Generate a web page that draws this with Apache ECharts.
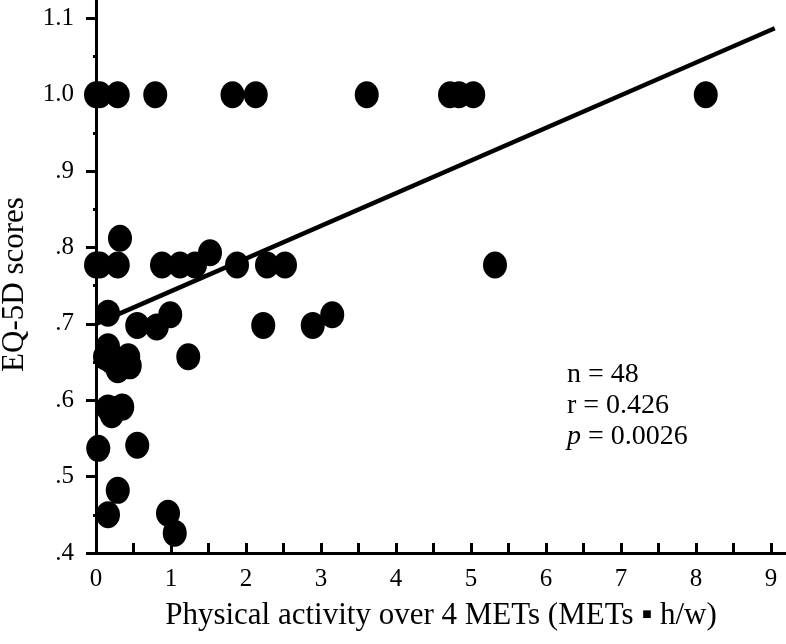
<!DOCTYPE html>
<html>
<head>
<meta charset="utf-8">
<script src="https://cdn.jsdelivr.net/npm/echarts@6/dist/echarts.min.js"></script>
<style>
html,body{margin:0;padding:0;background:#fff;}
#chart{width:786px;height:644px;}
</style>
</head>
<body>
<div id="chart"></div>
<script>
// Data: [METs h/w, EQ-5D score]
const pointsTop = [[0.0,1.0],[0.05,1.0],[0.29,1.0],[0.79,1.0],[1.82,1.0],[2.13,1.0],[3.61,1.0],[4.72,1.0],[4.84,1.0],[5.03,1.0],[8.13,1.0]];
const pointsMid = [[0.0,0.777],[0.05,0.777],[0.29,0.777],[0.32,0.812],[0.88,0.777],[1.12,0.777],[1.32,0.777],[1.52,0.793],[1.88,0.777],[2.28,0.777],[2.52,0.777],[5.32,0.777]];
const pointsLow = [[0.16,0.714],[0.55,0.698],[0.81,0.696],[0.99,0.712],[2.23,0.698],[2.89,0.698],[3.15,0.712],
  [0.16,0.670],[0.12,0.657],[0.20,0.652],[0.43,0.657],[0.45,0.645],[0.29,0.640],[1.23,0.657],
  [0.16,0.590],[0.25,0.588],[0.35,0.591],[0.21,0.581],
  [0.03,0.537],[0.55,0.541],
  [0.29,0.482],[0.16,0.450],[0.96,0.452],[1.05,0.426]];
const fitLine = [[0.0,0.700],[9.05,1.087]];
const xTicks = [0,0.5,1,1.5,2,2.5,3,3.5,4,4.5,5,5.5,6,6.5,7,7.5,8,8.5,9];
const xLabels = [0,1,2,3,4,5,6,7,8,9];
const yMajor = [0.4,0.5,0.6,0.7,0.8,0.9,1.0,1.1];
const yMinor = [0.45,0.55,0.65,0.75,0.85,0.95,1.05];
const statsText = ['n = 48','r = 0.426','0.0026'];

const FONT = '"Liberation Serif", "DejaVu Serif", serif';
const chart = echarts.init(document.getElementById('chart'), null, {renderer:'canvas'});
const yFmt = v => { const s = Number(v).toFixed(1); return v < 1 ? s.replace(/^0/, '') : s; };

chart.setOption({
  animation:false,
  backgroundColor:'#fff',
  grid:{left:96, right:0, top:0, bottom:91, containLabel:false, outerBoundsMode:'none'},
  xAxis:{
    type:'value', min:0, max:9.2,
    name:'Physical activity over 4 METs (METs ▪ h/w)',
    nameLocation:'middle', nameGap:47,
    nameTextStyle:{fontFamily:FONT, fontSize:31, color:'#000'},
    axisLine:{show:true, lineStyle:{color:'#000', width:3}},
    axisTick:{show:true, inside:true, length:10, lineStyle:{color:'#000', width:3}, customValues:xTicks},
    axisLabel:{fontFamily:FONT, fontSize:25, color:'#000', margin:14, customValues:xLabels},
    splitLine:{show:false}
  },
  yAxis:[{
    type:'value', min:0.4, max:1.124,
    name:'EQ-5D scores', nameLocation:'middle', nameGap:66, nameRotate:90,
    nameTextStyle:{fontFamily:FONT, fontSize:31, color:'#000', padding:[0,16,0,0]},
    axisLine:{show:true, lineStyle:{color:'#000', width:3}},
    axisTick:{show:true, inside:false, length:10, lineStyle:{color:'#000', width:3}, customValues:yMajor},
    axisLabel:{fontFamily:FONT, fontSize:25, color:'#000', margin:22, customValues:yMajor, formatter:yFmt},
    splitLine:{show:false}
  },{
    type:'value', min:0.4, max:1.124, position:'left',
    axisLine:{show:false},
    axisTick:{show:true, inside:false, length:3, lineStyle:{color:'#000', width:3}, customValues:yMinor},
    axisLabel:{show:false},
    splitLine:{show:false}
  }],
  series:[
    {type:'line', data:fitLine, showSymbol:false, symbol:'none', lineStyle:{color:'#000', width:4.5}, z:3},
    {type:'scatter', data:pointsTop.concat(pointsMid, pointsLow), symbol:'circle', symbolSize:[24,27], itemStyle:{color:'#000', opacity:1}, z:4}
  ],
  graphic:[{
    type:'group', left:567, top:361,
    children:[
      {type:'text', left:0, top:0, style:{text:statsText[0], font:'28px ' + FONT, fill:'#000'}},
      {type:'text', left:0, top:31, style:{text:statsText[1], font:'28px ' + FONT, fill:'#000'}},
      {type:'text', left:0, top:62, style:{text:'{i|p} = ' + statsText[2], font:'28px ' + FONT, fill:'#000',
        rich:{i:{fontStyle:'italic', fontFamily:FONT, fontSize:28, fill:'#000'}}}}
    ]
  }]
});
</script>
</body>
</html>
